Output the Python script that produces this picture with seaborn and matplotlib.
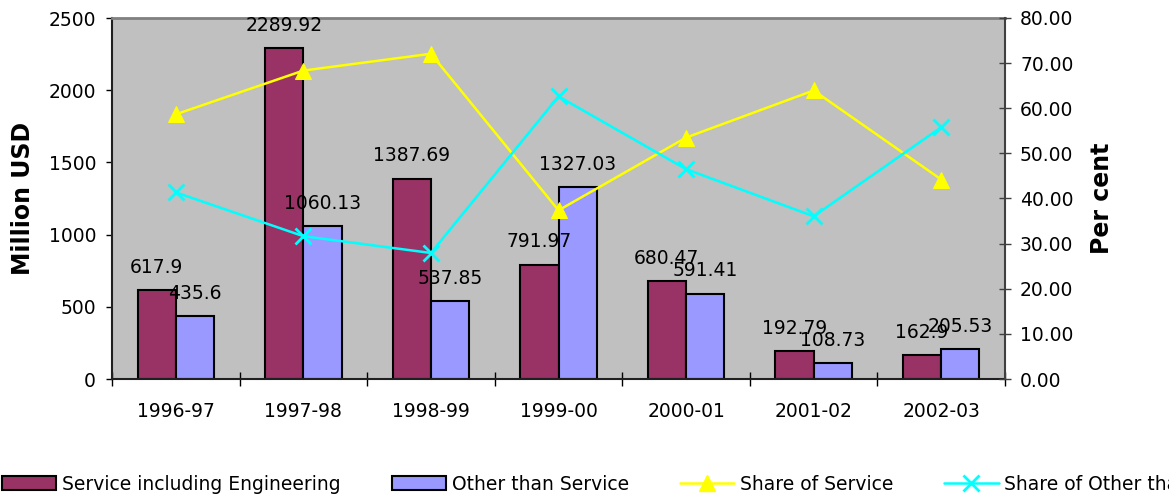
import matplotlib
matplotlib.use('Agg')
import matplotlib.pyplot as plt
import seaborn as sns
import pandas as pd
import numpy as np
from matplotlib.patches import Patch
from matplotlib.lines import Line2D
from matplotlib.ticker import FixedLocator, FormatStrFormatter

categories = ['1996-97', '1997-98', '1998-99', '1999-00', '2000-01', '2001-02', '2002-03']
service = [617.9, 2289.92, 1387.69, 791.97, 680.47, 192.79, 162.9]
other = [435.6, 1060.13, 537.85, 1327.03, 591.41, 108.73, 205.53]
share_service = [58.65, 68.35, 72.07, 37.37, 53.50, 63.94, 44.21]
share_other = [41.35, 31.65, 27.93, 62.63, 46.50, 36.06, 55.79]
series_names = ['Service including Engineering', 'Other than Service',
                'Share of Service', 'Share of Other than Service']
left_ticks = [0, 500, 1000, 1500, 2000, 2500]
right_ticks = [0, 10, 20, 30, 40, 50, 60, 70, 80]

BAR_COLORS = ['#993366', '#9999FF']
LINE_COLORS = ['#FFFF00', '#00FFFF']
FS = 13.5

sns.set_theme(style='white')
plt.rcParams['font.family'] = ['DejaVu Sans']
plt.rcParams['font.size'] = FS
for k in ['text.color', 'axes.labelcolor', 'xtick.color', 'ytick.color']:
    plt.rcParams[k] = 'black'

fig = plt.figure(figsize=(11.69, 4.98), dpi=100)
ax = fig.add_axes([112 / 1169, 1 - 379 / 498, 893 / 1169, 361 / 498])
ax.set_facecolor('#C0C0C0')

df = pd.DataFrame({
    'Year': categories * 2,
    'Value': service + other,
    'Series': [series_names[0]] * len(categories) + [series_names[1]] * len(categories),
})
sns.barplot(data=df, x='Year', y='Value', hue='Series', palette=BAR_COLORS,
            width=0.6, gap=0, edgecolor='black', linewidth=1.5, saturation=1,
            ax=ax, legend=False, zorder=2)

for cont, vals in zip(ax.containers, [service, other]):
    ax.bar_label(cont, labels=[str(v) for v in vals], padding=9.5,
                 fontsize=FS, color='black')

ax2 = ax.twinx()
xs = np.arange(len(categories))
sns.lineplot(x=xs, y=share_service, ax=ax2, color=LINE_COLORS[0], marker='^',
             markersize=11, markeredgecolor=LINE_COLORS[0], linewidth=1.8)
sns.lineplot(x=xs, y=share_other, ax=ax2, color=LINE_COLORS[1], marker='x',
             markersize=11, markeredgewidth=2, markeredgecolor=LINE_COLORS[1], linewidth=1.8)

ax.set_xlim(-0.5, len(categories) - 0.5)
ax.set_ylim(0, 2500)
ax.set_yticks(left_ticks)
ax.set_xticks(range(len(categories)))
ax.set_xticklabels(categories)
ax.xaxis.set_minor_locator(FixedLocator(np.arange(-0.5, len(categories), 1.0)))
ax.tick_params(axis='x', which='major', length=0, pad=16.5, labelsize=FS, bottom=True,
               labelcolor='black')
ax.tick_params(axis='x', which='minor', direction='inout', length=9.5, width=1,
               color='black', bottom=True)
ax.tick_params(axis='y', direction='out', length=4.5, width=1, color='black',
               pad=7, labelsize=FS, left=True, labelcolor='black')
ax.set_xlabel('')
ax.set_ylabel('Million USD', fontsize=17, fontweight='bold', color='black')
ax.yaxis.set_label_coords(-0.086, 0.5)

ax2.set_ylim(0, 80)
ax2.set_yticks(right_ticks)
ax2.yaxis.set_major_formatter(FormatStrFormatter('%.2f'))
ax2.tick_params(axis='y', direction='inout', length=8.6, width=1, color='#404040',
                pad=6.5, labelsize=FS, right=True, labelcolor='black')
ax2.set_ylabel('Per cent', fontsize=17, fontweight='bold', color='black')
ax2.yaxis.set_label_coords(1.095, 0.5)
ax2.set_xlabel('')

for s in ['left', 'top', 'bottom', 'right']:
    ax2.spines[s].set_visible(False)
ax.spines['top'].set_color('#808080')
ax.spines['top'].set_linewidth(2)
ax.spines['left'].set_color('#202020')
ax.spines['left'].set_linewidth(1.5)
ax.spines['bottom'].set_color('#202020')
ax.spines['bottom'].set_linewidth(1.5)
ax.spines['right'].set_visible(False)
ax2.spines['right'].set_visible(True)
ax2.spines['right'].set_color('#404040')
ax2.spines['right'].set_linewidth(1.5)

handles = [
    Patch(facecolor=BAR_COLORS[0], edgecolor='black', linewidth=1.5),
    Patch(facecolor=BAR_COLORS[1], edgecolor='black', linewidth=1.5),
    Line2D([], [], color=LINE_COLORS[0], marker='^', markersize=11, linewidth=1.8),
    Line2D([], [], color=LINE_COLORS[1], marker='x', markersize=11, markeredgewidth=2, linewidth=1.8),
]
fig.legend(handles, series_names, loc='center left', bbox_to_anchor=(2 / 1169, 1 - 484 / 498),
           ncol=4, frameon=False, handlelength=2.9, handleheight=0.8, handletextpad=0.3,
           columnspacing=2.72, borderpad=0, borderaxespad=0, fontsize=FS)

fig.savefig('out.png', dpi=100)
